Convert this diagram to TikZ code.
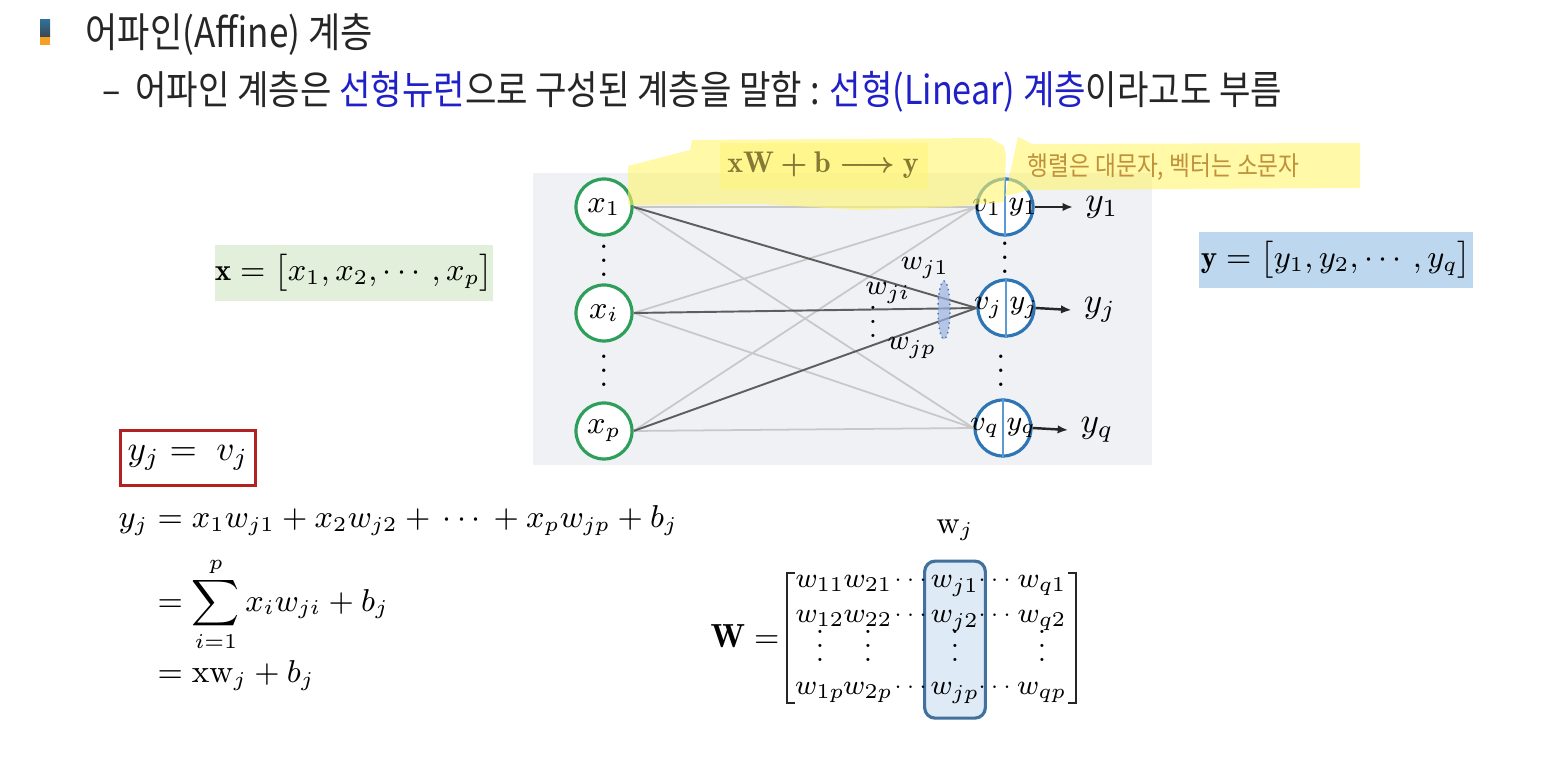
\documentclass[tikz,border=0pt]{standalone}
\usepackage{amsmath,amssymb}
\usepackage{fontspec}
\newfontfamily\krfont[FakeStretch=0.86]{Noto Sans CJK KR}
\usetikzlibrary{positioning,fit,backgrounds,arrows.meta,calc}
\definecolor{afInk}{HTML}{262626}
\definecolor{afBlue}{HTML}{2020C8}
\definecolor{afPanel}{HTML}{EFF1F4}
\definecolor{afGreen}{HTML}{2E9E5B}
\definecolor{afNode}{HTML}{2E75B6}
\definecolor{afDiv}{HTML}{5B9BD5}
\definecolor{afEdge}{HTML}{C8C8C8}
\definecolor{afEdgeD}{HTML}{5E5E5E}
\definecolor{afYel}{HTML}{FFF56E}
\definecolor{afOlive}{HTML}{857A35}
\definecolor{afGold}{HTML}{C0913A}
\definecolor{afXbox}{HTML}{E2EFDA}
\definecolor{afYbox}{HTML}{BDD7EE}
\definecolor{afRed}{HTML}{B22222}
\definecolor{afCol}{HTML}{DEEBF7}
\definecolor{afColD}{HTML}{41719C}
\definecolor{afEll}{HTML}{9DB3E0}
\definecolor{afEllD}{HTML}{4A6FBF}
\definecolor{afBarT}{HTML}{2F7098}
\definecolor{afBarM}{HTML}{3B4652}
\definecolor{afBarO}{HTML}{F4A024}
\tikzset{
  inN/.style={circle, draw=afGreen, line width=0.9pt, fill=white, minimum size=0.56cm, inner sep=0pt, font=\fontsize{9}{10}\selectfont},
  outN/.style={circle, draw=afNode, line width=0.9pt, fill=white, minimum size=0.56cm, inner sep=0pt},
  half/.style={inner sep=0.8pt, font=\fontsize{8.5}{10}\selectfont},
  edg/.style={draw=afEdge, line width=0.5pt},
  edgD/.style={draw=afEdgeD, line width=0.55pt},
  arr/.style={-{Latex[length=3pt,width=2.4pt]}, line width=0.7pt, draw=afInk},
  wl/.style={inner sep=0pt, font=\fontsize{8}{9}\selectfont},
  dotv/.style={inner sep=0pt, anchor=base, font=\fontsize{9}{10}\selectfont},
  hl/.style={fill=afYel, fill opacity=0.6, draw=none},
  eqbox/.style={minimum width=2.74cm, minimum height=0.55cm, inner sep=0pt, font=\fontsize{8.8}{10}\selectfont},
  mx/.style={inner sep=0pt, anchor=base, font=\fontsize{8}{9}\selectfont},
  mdots/.style={inner sep=0pt, anchor=base, font=\fontsize{6.5}{8}\selectfont},
}
\begin{document}
\begin{tikzpicture}[x=0.01cm, y=-0.01cm]
\begin{scope}[on background layer]
  \fill[white] (0,0) rectangle (1559,761);
\end{scope}
\useasboundingbox (0,0) rectangle (1559,761);
% title
\shade[top color=afBarT, bottom color=afBarM] (40,20) rectangle (50,37);
\fill[afBarO] (40,37) rectangle (50,45);
\node[anchor=west, inner sep=0pt, text=afInk, font=\krfont\fontsize{11.6}{13}\selectfont] (ttl) at (85,35) {어파인(Affine) 계층};
\node[anchor=west, inner sep=0pt, text=afInk, font=\krfont\fontsize{11.3}{13}\selectfont] (sub) at (102,92) {–\, 어파인 계층은 \textcolor{afBlue}{선형뉴런}으로 구성된 계층을 말함 : \textcolor{afBlue}{선형(Linear) 계층}이라고도 부름};
% network
\fill[afPanel] (533,173) rectangle (1152,465);
\node[inN] (x1) at (604,207) {$x_1$};
\node[inN] (xi) at (604,313) {$x_i$};
\node[inN] (xp) at (604,431) {$x_p$};
\node[outN] (o1) at (1005,207) {};
\node[outN] (oj) at (1006,308) {};
\node[outN] (oq) at (1003,428) {};
\foreach \a in {x1,xi,xp} \foreach \b in {o1,oq} \draw[edg] (\a.east) -- (\b.west);
\foreach \a in {x1,xi,xp} \draw[edgD] (\a.east) -- (oj.west);
\foreach \o/\s in {o1/1,oj/j,oq/q} {
  \draw[afDiv, line width=0.6pt] (\o.north) -- (\o.south);
  \node[half, anchor=east] (v\s) at (\o.center) {$v_{\s}$};
  \node[half, anchor=west] (h\s) at (\o.center) {$y_{\s}$};
}
\node[font=\fontsize{10}{12}\selectfont] (y1) at (1102,207) {$y_1$};
\node[font=\fontsize{10}{12}\selectfont] (yj) at (1100,310) {$y_j$};
\node[font=\fontsize{10}{12}\selectfont] (yq) at (1097,430) {$y_q$};
\draw[arr] (o1.east) -- (y1.west);
\draw[arr] (oj.east) -- (yj.west);
\draw[arr] (oq.east) -- (yq.west);
\node[dotv] (dx1) at (604,277) {$\vdots$};
\node[dotv] (dx2) at (604,387) {$\vdots$};
\node[dotv] (do1) at (1005,274) {$\vdots$};
\node[dotv] (do2) at (1001,387) {$\vdots$};
\draw[afEllD, densely dotted, fill=afEll, fill opacity=0.7] (944,310) ellipse [x radius=0.06cm, y radius=0.29cm];
\node[wl] (wj1) at (925,268) {$w_{j1}$};
\node[wl] (wji) at (888,293) {$w_{ji}$};
\node[wl, anchor=base] (wdt) at (873,338) {$\vdots$};
\node[wl] (wjp) at (912,348) {$w_{jp}$};
% highlighter
\fill[hl] (628,166) -- (690,150) -- (692,140) -- (990,138) -- (1004,146) -- (1006,156) -- (1004,202) -- (950,207) -- (860,210) -- (760,204) -- (628,205) -- cycle;
\fill[hl] (1018,137) -- (1032,144) -- (1360,143) -- (1360,188) -- (1030,190) -- (1005,196) -- cycle;
\fill[afYel, fill opacity=0.45] (720,143) rectangle (928,190);
\node[text=afOlive, font=\fontsize{8.5}{10}\selectfont] (aff) at (823,165) {$\mathbf{xW}\boldsymbol{+}\mathbf{b}\boldsymbol{\longrightarrow}\mathbf{y}$};
\node[anchor=west, inner sep=0pt, text=afGold, font=\krfont\fontsize{7.5}{9}\selectfont] (note) at (1027,167) {행렬은 대문자, 벡터는 소문자};
% vectors
\node[eqbox, fill=afXbox] (xvec) at (354,273) {$\mathbf{x}=\bigl[x_1,x_2,\cdots,x_p\bigr]$};
\node[eqbox, fill=afYbox] (yvec) at (1336,260) {$\mathbf{y}=\bigl[y_1,y_2,\cdots,y_q\bigr]$};
% equations
\node[draw=afRed, line width=0.8pt, fill=white, minimum width=1.24cm, minimum height=0.55cm, inner xsep=2pt, font=\fontsize{10}{12}\selectfont] (yv) at (188,458) {$y_j = \;v_j$};
\node[anchor=north west, inner sep=0pt, font=\fontsize{9.2}{11}\selectfont] (eqs) at (118,500) {$\begin{aligned}
  y_j &= x_1w_{j1}+x_2w_{j2}+\,\cdots\,+x_pw_{jp}+b_j\\[1pt]
      &= \sum_{i=1}^{p} x_iw_{ji}+b_j\\[-3pt]
      &= \mathrm{xw}_j+b_j
\end{aligned}$};
% weight matrix
\node[font=\fontsize{9.5}{11}\selectfont] (Weq) at (745,636) {$\mathbf{W}=$};
\foreach \r/\yy/\s in {1/588/1, 2/623/2, 4/695/p} {
  \node[mx] (m\r a) at (820,\yy) {$w_{1\s}$};
  \node[mx] (m\r b) at (868,\yy) {$w_{2\s}$};
  \node[mdots] (m\r c) at (913,\yy-2) {$\cdots$};
  \node[mx] (m\r d) at (955,\yy) {$w_{j\s}$};
  \node[mdots] (m\r e) at (997,\yy-2) {$\cdots$};
  \node[mx] (m\r f) at (1042,\yy) {$w_{q\s}$};
}
\foreach \c/\xx in {a/820, b/868, d/955, f/1042}
  \node[mx] (m3\c) at (\xx,662) {$\vdots$};
\draw[afInk, line width=0.6pt] (795,573) -- (787,573) -- (787,703) -- (795,703);
\draw[afInk, line width=0.6pt] (1068,573) -- (1076,573) -- (1076,703) -- (1068,703);
\begin{scope}[on background layer]
  \node[fit=(m1d)(m4d), draw=afColD, fill=afCol, rounded corners=3pt, line width=0.9pt, inner xsep=1.5pt, inner ysep=4pt] (wbox) {};
\end{scope}
\node[above=0.06cm of wbox, font=\fontsize{9}{10}\selectfont] (wjl) {$\mathrm{w}_j$};
\end{tikzpicture}
\end{document}
